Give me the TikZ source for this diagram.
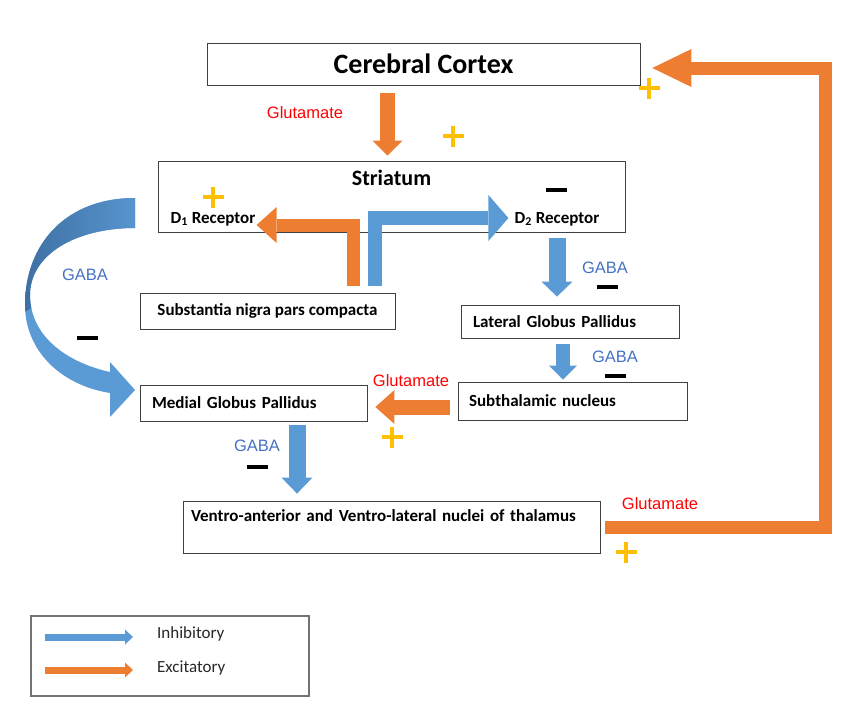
\documentclass[tikz,border=0pt]{standalone}
\usepackage{fontspec}
\setmainfont{Carlito}
\newfontfamily\arialfont{Liberation Sans}
\usepackage{tikz}
\usetikzlibrary{arrows.meta}
\definecolor{excorange}{HTML}{ED7D31}
\definecolor{inhblue}{HTML}{5B9BD5}
\definecolor{inhdark}{HTML}{3F70A4}
\definecolor{gabablue}{HTML}{4472C4}
\definecolor{plusyellow}{HTML}{FFC000}
\definecolor{glured}{HTML}{FF0000}
\newcommand*\barlen{21pt}
\newcommand*\barwd {4.5pt}
\newcommand*\plusmark{\rlap{\raisebox{8.25pt}{\rule{\barlen}{\barwd}}}\hspace*{8.25pt}\rule{\barwd}{\barlen}\hspace*{8.25pt}}
\newcommand*\minusmark{\rule{\barlen}{\barwd}}
\newcommand*\gabacurve{(135,198) .. controls (65,198) and (25,245) .. (25,305)
    .. controls (25,350) and (60,385) .. (110,393) -- (110,417) -- (135,390) -- (110,362) -- (110,372)
    .. controls (65,362) and (30,335) .. (30,295) .. controls (30,255) and (75,228) .. (135,228) -- cycle}
\tikzset{
    box/.style     = {draw=black!75, line width=0.8pt, inner sep=0pt,
                      font=\bfseries\fontsize{17}{19}\selectfont},
    leftbox/.style = {box, align=left, inner xsep=12pt},
    receptor/.style= {inner sep=0pt, font=\bfseries\fontsize{17}{19}\selectfont},
    gaba/.style    = {inner sep=0pt, text=gabablue, font=\arialfont\fontsize{16.5}{18}\selectfont},
    glu/.style     = {inner sep=0pt, text=glured, font=\arialfont\fontsize{16.5}{18}\selectfont},
    plussign/.style  = {inner sep=0pt, text=plusyellow, execute at begin node={\plusmark}},
    minussign/.style = {inner sep=0pt, execute at begin node={\minusmark}},
    excite/.style  = {draw=excorange, line join=miter},
    inhib/.style   = {draw=inhblue, line join=miter},
    blockhead/.style 2 args = {-{Triangle[width=#1,length=#2,line width=0pt]}},
    legendtext/.style = {inner sep=0pt, anchor=west, font=\fontsize{17}{19}\selectfont, text=black!85},
  }
\begin{document}
\begin{tikzpicture}[x=1pt,y=-1pt]
      \useasboundingbox (0,0) rectangle (863,712);

      % Boxes
      \node[box, font=\bfseries\fontsize{28}{30}\selectfont,
            minimum width=433pt, minimum height=42pt] (cortex) at (423.5,64) {Cerebral Cortex};
      \node[box, font=\bfseries\fontsize{22}{24}\selectfont, text height=15pt, text depth=38pt,
            minimum width=467pt, minimum height=71pt] (striatum) at (391.5,196.5) {Striatum};
      \node[box, minimum width=255pt, minimum height=36pt] (snc) at (267.5,311) {Substantia nigra pars compacta};
      \node[leftbox, text width=194pt, minimum height=33pt] (lgp) at (570,321.5) {Lateral Globus Pallidus};
      \node[leftbox, text width=203pt, minimum height=36pt] (mgp) at (253.5,403) {Medial Globus Pallidus};
      \node[leftbox, inner xsep=11pt, text width=207pt, minimum height=38pt] (stn) at (572.5,401) {Subthalamic nucleus};
      \node[leftbox, inner xsep=8pt, text width=401pt, text height=12pt, text depth=24pt,
            minimum height=52pt] (thal) at (391.5,527) {Ventro-anterior and Ventro-lateral nuclei of thalamus};

      % Receptors inside the striatum
      \node[receptor] (d1) at (213,219) {D\textsubscript{1} Receptor};
      \node[receptor] (d2) at (557,219) {D\textsubscript{2} Receptor};

      % Excitatory pathways
      \draw[excite, line width=15pt, blockhead={30pt}{15pt}]
        ([xshift=-36pt,yshift=-8pt]cortex.south) -- ([xshift=-4pt,yshift=5pt]striatum.north);
      \draw[excite, line width=13pt, blockhead={36pt}{20pt}]
        ([xshift=85.5pt,yshift=7pt]snc.north) |- ([xshift=99pt,yshift=-28.5pt]striatum.west);
      \draw[excite, line width=15pt, blockhead={34pt}{19pt}]
        ([xshift=-8pt,yshift=-6pt]stn.west) -- ([xshift=8pt,yshift=-4pt]mgp.east);
      \draw[excite, line width=13pt, blockhead={38pt}{39pt}]
        ([xshift=5pt]thal.east) -- ++(220,0) |- ([xshift=12pt,yshift=-4pt]cortex.east);

      % Inhibitory pathways
      \draw[inhib, line width=14pt, blockhead={46pt}{20pt}]
        ([xshift=107.5pt,yshift=7pt]snc.north) |- ([xshift=-117pt,yshift=-21.5pt]striatum.east);
      \draw[inhib, line width=17pt, blockhead={31pt}{15pt}]
        ([xshift=165.5pt,yshift=-6pt]striatum.south) -- ([xshift=-13pt,yshift=8pt]lgp.north);
      \draw[inhib, line width=14pt, blockhead={28pt}{14pt}]
        ([xshift=-7pt,yshift=-6pt]lgp.south) -- ([xshift=-9.5pt,yshift=2pt]stn.north);
      \draw[inhib, line width=17pt, blockhead={31pt}{16pt}]
        ([xshift=43.5pt,yshift=-4pt]mgp.south) -- ([xshift=-94.5pt,yshift=7pt]thal.north);

      % Curved arrow from the striatum to the medial globus pallidus
      \fill[inhblue] \gabacurve;
      \begin{scope}
        \clip (0,180) -- (160,180) -- (160,240) -- (0,325) -- cycle;
        \path[left color=inhdark, right color=inhblue!85!inhdark] \gabacurve;
      \end{scope}

      % Transmitter labels
      \node[glu] (glu1) at (305,113) {Glutamate};
      \node[glu] (glu2) at (411,381) {Glutamate};
      \node[glu] (glu3) at (660,504) {Glutamate};
      \node[gaba] (gaba1) at (85,275) {GABA};
      \node[gaba] (gaba2) at (605,268) {GABA};
      \node[gaba] (gaba3) at (615,357) {GABA};
      \node[gaba] (gaba4) at (257,446) {GABA};

      % Signs
      \node[plussign] (p1) at (453,136) {};
      \node[plussign] (p2) at (649,88) {};
      \node[plussign] (p3) at (213,197) {};
      \node[plussign] (p4) at (392,437) {};
      \node[plussign] (p5) at (626,552) {};
      \node[minussign] (m1) at (556,190) {};
      \node[minussign] (m2) at (607,287) {};
      \node[minussign] (m3) at (615,376) {};
      \node[minussign] (m4) at (257,467) {};
      \node[minussign] (m5) at (87,338) {};

      % Legend
      \draw[black!55, line width=1.2pt] (31,616) rectangle (309,696);
      \node[legendtext] (inh) at (157,634) {Inhibitory};
      \node[legendtext] (exc) at (157,668) {Excitatory};
      \draw[inhib, line width=7pt, blockhead={15pt}{8pt}]
        ([xshift=-112pt,yshift=-3pt]inh.west) -- ([xshift=-24pt,yshift=-3pt]inh.west);
      \draw[excite, line width=7pt, blockhead={15pt}{8pt}]
        ([xshift=-112pt,yshift=-2pt]exc.west) -- ([xshift=-24pt,yshift=-2pt]exc.west);
    \end{tikzpicture}
\end{document}
